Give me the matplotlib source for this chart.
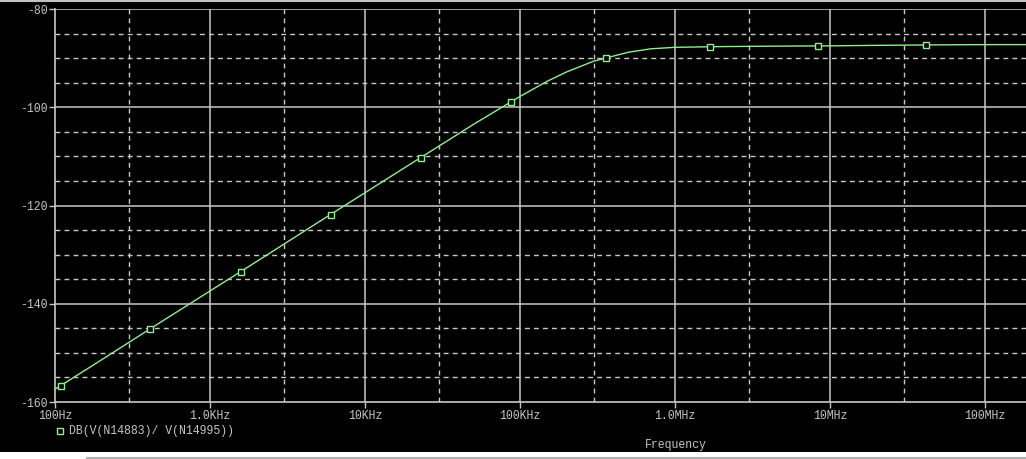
import matplotlib
matplotlib.use("Agg")
import matplotlib.pyplot as plt
from matplotlib.patches import Rectangle
from matplotlib.lines import Line2D

# trace (Hz, dB)
freq = [100, 200, 500, 1e3, 2e3, 5e3, 1e4, 2e4, 5e4, 1e5, 1.5e5, 2e5,
        3e5, 5e5, 7e5, 1e6, 2e6, 5e6, 1e7, 2e7, 5e7, 1e8, 2e8]
db = [-157.4, -151.4, -143.4, -137.4, -131.4, -123.4, -117.4, -111.4,
      -103.5, -97.8, -94.7, -92.8, -90.6, -88.8, -88.1, -87.8, -87.65,
      -87.55, -87.5, -87.4, -87.3, -87.25, -87.25]

# marker squares along the trace
mark_freq = [109, 410, 1585, 6030, 22960, 87500, 359000, 1.68e6, 8.4e6, 4.16e7]
mark_db = [-156.7, -145.1, -133.5, -121.9, -110.3, -98.9, -90.0, -87.7, -87.5, -87.3]

yticks = [-160, -140, -120, -100, -80]
ytick_labels = ["-160", "-140", "-120", "-100", "-80"]
xticks = [1e2, 1e3, 1e4, 1e5, 1e6, 1e7, 1e8]
xtick_labels = ["100Hz", "1.0KHz", "10KHz", "100KHz", "1.0MHz", "10MHz", "100MHz"]
xminor = [3e2, 3e3, 3e4, 3e5, 3e6, 3e7, 3e8]
yminor = [-155, -150, -145, -135, -130, -125, -115, -110, -105, -95, -90, -85]

trace_label = "DB(V(N14883)/ V(N14995))"

W, H = 1026, 459
fig = plt.figure(figsize=(W / 100, H / 100), dpi=100, facecolor="black")
mono = "Liberation Mono"
txt = "#c4c4c4"
green = "#8cf08c"

ax = fig.add_axes([55 / W, (H - 402) / H, (W - 55) / W, 393 / H])
ax.set_facecolor("black")
ax.set_xscale("log")
ax.set_xlim(100, 10 ** (2 + 971 / 155))
ax.set_ylim(-160, -80)

for s in ["top", "right"]:
    ax.spines[s].set_visible(False)
for s in ["left", "bottom"]:
    ax.spines[s].set_color("#c8c8c8")
    ax.spines[s].set_linewidth(1.2)

ax.set_yticks(yticks)
ax.set_yticklabels(ytick_labels)
ax.set_xticks(xticks)
ax.set_xticklabels(xtick_labels)
ax.minorticks_off()
ax.tick_params(colors=txt, length=4, width=1, direction="out", pad=2,
               labelsize=8.3)
ax.tick_params(axis="y", pad=1)
for lab in ax.get_xticklabels() + ax.get_yticklabels():
    lab.set_fontfamily(mono)
    lab.set_color(txt)

# grid
for y in yticks[1:]:
    ax.axhline(y, color="#c8c8c8", lw=1.1, zorder=1)
for x in xticks[1:]:
    ax.axvline(x, color="#c8c8c8", lw=1.1, zorder=1)
for y in yminor:
    ax.axhline(y, color="#c8c8c8", lw=1, ls=(0, (3.5, 3)), zorder=1)
for x in xminor:
    ax.axvline(x, color="#c8c8c8", lw=1, ls=(0, (3.5, 3)), zorder=1)

ax.plot(freq, db, color=green, lw=1, zorder=3)
ax.plot(mark_freq, mark_db, ls="none", marker="s", ms=5, mfc="black",
        mec=green, mew=1, zorder=4)

# legend and axis title
fig.add_artist(Line2D([60 / W], [1 - 431 / H], marker="s", ms=4, mfc="black",
                      mec=green, mew=1, ls="none"))
fig.text(69 / W, 1 - 431 / H, trace_label, color=txt, fontsize=8.3,
         family=mono, va="center", ha="left")
fig.text(645 / W, 1 - 445 / H, "Frequency", color=txt, fontsize=8.3,
         family=mono, va="center", ha="left")

# window chrome
fig.add_artist(Rectangle((0, 0), 1, 7 / H, transform=fig.transFigure,
                         facecolor="white", edgecolor="none"))
fig.add_artist(Line2D([87 / W, 1], [1.5 / H, 1.5 / H], color="#b0b0b0", lw=1.5))
fig.add_artist(Line2D([0, 1], [1 - 1 / H, 1 - 1 / H], color="#c0c0c0", lw=1.5))

fig.savefig("out.png", dpi=100, facecolor="black")
